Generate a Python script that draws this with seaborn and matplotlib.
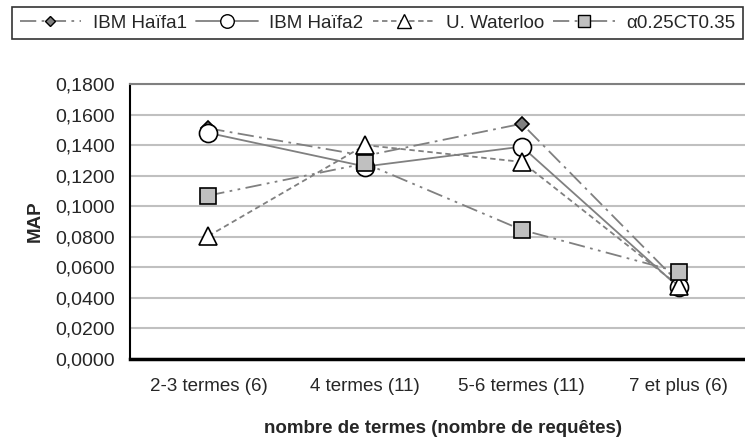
import matplotlib
matplotlib.use("Agg")
import pandas as pd
import matplotlib.pyplot as plt
import seaborn as sns
from matplotlib.ticker import FuncFormatter, FixedLocator
from matplotlib.lines import Line2D

categories = ["2-3 termes (6)", "4 termes (11)", "5-6 termes (11)", "7 et plus (6)"]
series = ["IBM Haïfa1", "IBM Haïfa2", "U. Waterloo", "α0.25CT0.35"]
haifa1 = [0.151, 0.133, 0.154, 0.050]
haifa2 = [0.148, 0.126, 0.139, 0.047]
waterloo = [0.0805, 0.140, 0.129, 0.048]
alpha = [0.107, 0.128, 0.0845, 0.057]

sns.set_theme(style="white")
plt.rcParams["font.family"] = ["Liberation Sans", "DejaVu Sans"]

rows = []
for name, vals in zip(series, [haifa1, haifa2, waterloo, alpha]):
    for i, v in enumerate(vals):
        rows.append({"serie": name, "pos": i, "MAP": v})
df = pd.DataFrame(rows)

styles = {
    "IBM Haïfa1": dict(marker="D", mfc="#808080", ms=7, dashes=(9, 3, 1.5, 3)),
    "IBM Haïfa2": dict(marker="o", mfc="white", ms=13, dashes=None),
    "U. Waterloo": dict(marker="^", mfc="white", ms=13, dashes=(3, 2)),
    "α0.25CT0.35": dict(marker="s", mfc="#c0c0c0", ms=11, dashes=(9, 3, 1.5, 3, 1.5, 3)),
}

fig = plt.figure(figsize=(7.45, 4.41), dpi=100)
ax = fig.add_axes([130 / 745, 82 / 441, 627 / 745, 275 / 441])

handles = []
for name in series:
    s = styles[name]
    sub = df[df["serie"] == name]
    sns.lineplot(data=sub, x="pos", y="MAP", ax=ax, color="#808080", lw=1.3,
                 marker=s["marker"], markersize=s["ms"], markerfacecolor=s["mfc"],
                 markeredgecolor="black", markeredgewidth=1.2, legend=False)
    line = ax.lines[-1]
    if s["dashes"] is not None:
        line.set_dashes(s["dashes"])
    h = Line2D([], [], color="#808080", lw=1.3, marker=s["marker"],
               markersize=s["ms"] * 0.75, markerfacecolor=s["mfc"],
               markeredgecolor="black", markeredgewidth=1.0)
    if s["dashes"] is not None:
        h.set_dashes(s["dashes"])
    handles.append(h)

ax.set_xlim(-0.5, 3.5)
ax.set_ylim(0, 0.18)
ax.set_yticks([i * 0.02 for i in range(10)])
ax.yaxis.set_major_formatter(FuncFormatter(lambda v, p: f"{v:.4f}".replace(".", ",")))
ax.set_xticks(range(4))
ax.set_xticklabels(categories)
ax.xaxis.set_minor_locator(FixedLocator([0.5, 1.5, 2.5]))
ax.tick_params(axis="x", which="major", length=0, labelsize=13.5, pad=14)
ax.tick_params(axis="x", which="minor", length=6, width=1.2, color="black", direction="out")
ax.tick_params(axis="y", length=6, width=1.2, color="black", direction="out", labelsize=14, pad=5)
ax.grid(axis="y", color="#c0c0c0", lw=1.5)
ax.grid(axis="x", visible=False)
ax.set_axisbelow(True)

ax.spines["left"].set_color("black")
ax.spines["left"].set_linewidth(1.5)
ax.spines["bottom"].set_color("black")
ax.spines["bottom"].set_linewidth(2.5)
ax.spines["top"].set_color("#808080")
ax.spines["top"].set_linewidth(1.5)
ax.spines["right"].set_visible(False)

ax.set_ylabel("MAP", fontsize=13.5, fontweight="bold", labelpad=8)
ax.set_xlabel("nombre de termes (nombre de requêtes)", fontsize=13.5, fontweight="bold", labelpad=18)

leg = fig.legend(handles, series, loc="upper left", bbox_to_anchor=(12 / 745, 1 - 7 / 441),
                 ncol=4, frameon=True, fontsize=13.5, handlelength=3.3, columnspacing=0.5,
                 handletextpad=0.6, borderpad=0.4, borderaxespad=0, fancybox=False)
leg.get_frame().set_edgecolor("black")
leg.get_frame().set_linewidth(1.2)

fig.savefig("out.png", dpi=100)
